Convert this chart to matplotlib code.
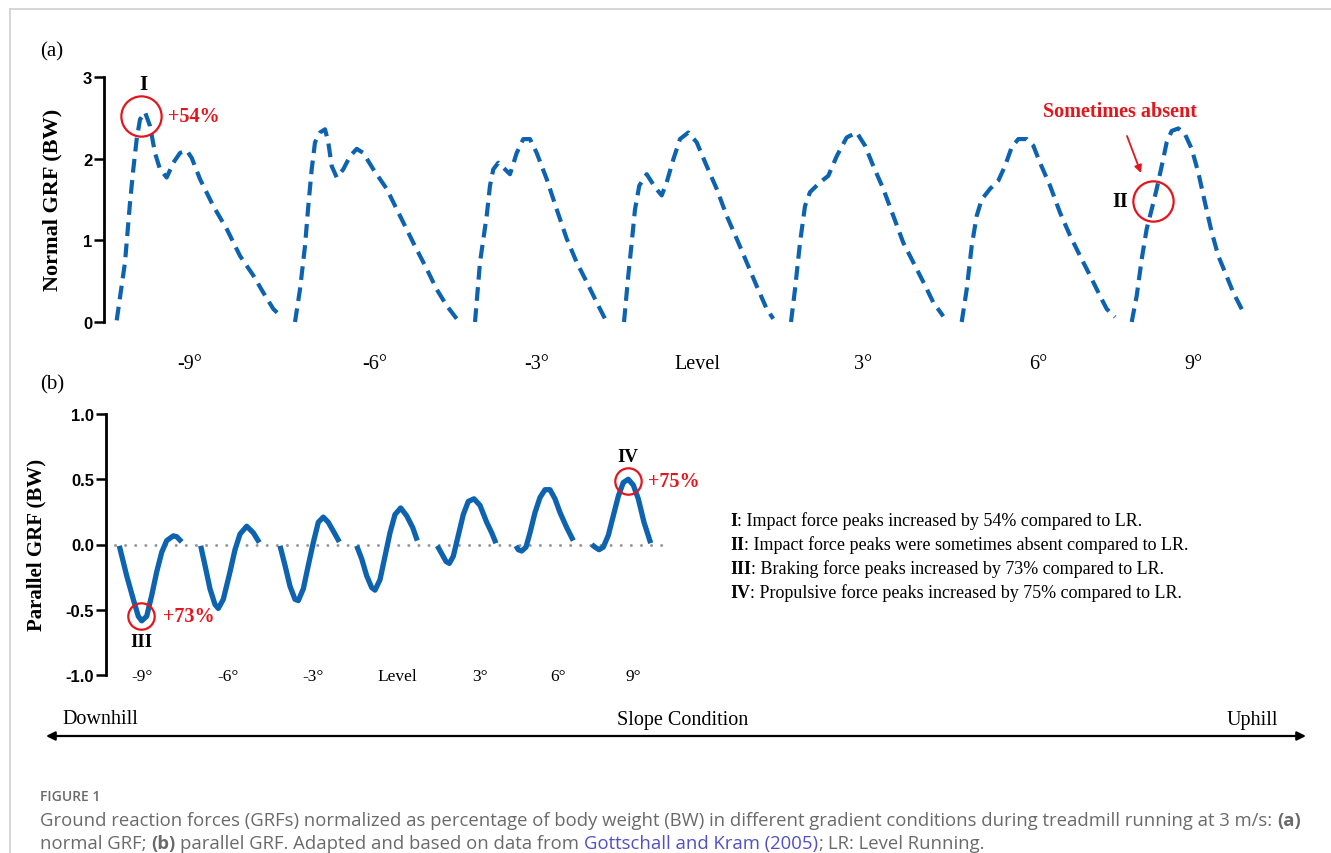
import matplotlib
matplotlib.use('Agg')
import matplotlib.pyplot as plt
from matplotlib.lines import Line2D

W, H = 1331, 854

conditions = ['-9°', '-6°', '-3°', 'Level', '3°', '6°', '9°']

# (a) normal GRF, one curve per slope, time in arbitrary units
normal_t = [
    [116.7, 125, 130, 133.3, 136.7, 140, 145, 150, 155, 160, 166.7, 173.3, 180, 186.7, 191.7, 200, 213.3, 226.7, 240, 253.3, 263.3, 273.3, 281.7],
    [295, 300, 305, 308.3, 311.7, 315, 320, 325, 328.3, 331.7, 336.7, 343.3, 350, 356.7, 363.3, 373.3, 386.7, 400, 413.3, 426.7, 436.7, 446.7, 456.7],
    [475, 480, 486.7, 490, 493.3, 498.3, 510, 516.7, 523.3, 530, 536.7, 546.7, 556.7, 566.7, 576.7, 586.7, 596.7, 605],
    [624, 628.3, 631.7, 635, 639.3, 646.7, 655, 661.7, 666.7, 673.3, 680, 688.3, 696.7, 706.7, 716.7, 726.7, 736.7, 746.7, 756.7, 766.7, 773.3],
    [791, 795, 800, 805, 810, 820, 828.3, 836.7, 846.7, 856.7, 865, 873.3, 883.3, 893.3, 903.3, 913.3, 923.3, 933.3, 943.3],
    [961.7, 966.7, 971.7, 976.7, 981.7, 990, 998.3, 1005, 1011.7, 1018.3, 1026.7, 1033.3, 1040, 1050, 1060, 1070, 1080, 1090, 1100, 1106.7, 1115],
    [1131.7, 1136.7, 1141.7, 1146.7, 1151.7, 1156.7, 1161.7, 1166.7, 1171.7, 1178.3, 1185, 1191.7, 1198.3, 1205, 1211.7, 1218.3, 1225, 1233.3, 1240, 1245],
]
normal_f = [
    [0.02, 0.73, 1.46, 1.87, 2.24, 2.48, 2.57, 2.40, 2.07, 1.87, 1.77, 1.95, 2.07, 2.10, 2.01, 1.75, 1.42, 1.14, 0.81, 0.57, 0.36, 0.16, 0.06],
    [0.0, 0.40, 0.93, 1.42, 1.87, 2.20, 2.32, 2.36, 2.20, 1.91, 1.77, 1.87, 2.03, 2.12, 2.07, 1.87, 1.63, 1.30, 0.97, 0.65, 0.40, 0.20, 0.04],
    [0.0, 0.73, 1.30, 1.67, 1.87, 1.95, 1.81, 2.07, 2.24, 2.24, 2.07, 1.75, 1.38, 1.02, 0.73, 0.49, 0.24, 0.04],
    [0.0, 0.57, 0.97, 1.38, 1.67, 1.81, 1.65, 1.55, 1.71, 1.99, 2.24, 2.32, 2.20, 1.91, 1.63, 1.30, 1.02, 0.73, 0.44, 0.16, 0.04],
    [0.0, 0.40, 0.97, 1.42, 1.59, 1.71, 1.79, 2.03, 2.26, 2.32, 2.16, 1.91, 1.63, 1.30, 0.97, 0.73, 0.49, 0.24, 0.07],
    [0.0, 0.40, 0.93, 1.30, 1.50, 1.63, 1.73, 1.91, 2.14, 2.24, 2.24, 2.16, 1.95, 1.67, 1.34, 1.06, 0.81, 0.57, 0.32, 0.16, 0.06],
    [0.0, 0.32, 0.77, 1.14, 1.38, 1.63, 1.91, 2.20, 2.34, 2.37, 2.30, 2.12, 1.83, 1.46, 1.10, 0.81, 0.61, 0.36, 0.20, 0.08],
]
normal_label_t = [190, 375, 537, 697, 863, 1038, 1193]
normal_circle_t = [141, 1153]
normal_circle_f = [2.52, 1.48]

# (b) parallel GRF
parallel_t = [
    [119.3, 126.7, 133.3, 138.3, 141.7, 146.7, 151.7, 156.7, 161.7, 166.7, 173.3, 176.7, 181.7],
    [200.7, 205, 210, 215, 218.3, 223.3, 230, 235, 240, 246.7, 253.3, 259.3],
    [280, 285, 290, 295, 298.3, 303.3, 308.3, 313.3, 318.3, 323.3, 328.3, 335, 339.3],
    [356.7, 361.7, 366.7, 371.7, 375, 380, 385, 390, 395, 400.7, 406.7, 412.7, 417.3],
    [437.3, 441.7, 446, 449.3, 453.3, 458.3, 463.3, 468.3, 474, 480, 486.7, 491.7, 496],
    [516, 518.3, 521.7, 526, 530, 535, 540, 545, 550, 555, 560, 566.7, 573.3],
    [591.7, 595, 599, 603.3, 608.3, 613.3, 618.3, 623.3, 628.3, 633.3, 638.3, 644, 650.7],
]
parallel_f = [
    [-0.01, -0.24, -0.42, -0.55, -0.585, -0.55, -0.39, -0.21, -0.06, 0.03, 0.066, 0.06, 0.02],
    [-0.01, -0.16, -0.34, -0.46, -0.49, -0.42, -0.21, -0.04, 0.08, 0.14, 0.09, 0.015],
    [-0.01, -0.16, -0.32, -0.42, -0.43, -0.34, -0.16, 0.015, 0.17, 0.21, 0.17, 0.08, 0.02],
    [-0.01, -0.11, -0.24, -0.33, -0.35, -0.27, -0.09, 0.09, 0.23, 0.28, 0.22, 0.13, 0.03],
    [-0.01, -0.07, -0.13, -0.145, -0.09, 0.07, 0.23, 0.33, 0.35, 0.30, 0.17, 0.09, 0.01],
    [-0.01, -0.04, -0.05, -0.02, 0.09, 0.245, 0.36, 0.42, 0.42, 0.35, 0.245, 0.13, 0.03],
    [0.0, -0.02, -0.04, -0.02, 0.07, 0.22, 0.37, 0.475, 0.50, 0.455, 0.35, 0.17, 0.01],
]
parallel_label_t = [142, 228, 313, 397, 480, 558, 633]
parallel_circle_t = [140.7, 628.3]
parallel_circle_f = [-0.55, 0.49]
zero_line_t = [115, 665]

notes = [
    ('I', ': Impact force peaks increased by 54% compared to LR.'),
    ('II', ': Impact force peaks were sometimes absent compared to LR.'),
    ('III', ': Braking force peaks increased by 73% compared to LR.'),
    ('IV', ': Propulsive force peaks increased by 75% compared to LR.'),
]

SERIF = 'Liberation Serif'
SANS = 'Liberation Sans'
CAP = 'Open Sans'
BLUE = '#0d63b0'
RED = '#e3161d'
GREY = '#6a6a6a'
CAP_SIZE = 13.3


def fx(x):
    return x / W


def fy(y):
    return 1 - y / H


fig = plt.figure(figsize=(W / 100, H / 100), dpi=100)

# page frame
fig.add_artist(Line2D([fx(9.5), fx(9.5)], [0, fy(9.5)], color='#cfcfcf', lw=1.2))
fig.add_artist(Line2D([fx(9.5), 1], [fy(9.5), fy(9.5)], color='#cfcfcf', lw=1.2))


def style_axis(ax, yticks, ylabels):
    for s in ['top', 'right', 'bottom']:
        ax.spines[s].set_visible(False)
    ax.spines['left'].set_linewidth(2.0)
    ax.set_yticks(yticks)
    ax.set_yticklabels(ylabels, fontfamily=SANS, fontweight='bold', fontsize=12)
    ax.tick_params(axis='y', direction='out', length=7, width=1.8, pad=1.5)


# ---- (a) normal GRF
ax1 = fig.add_axes([fx(104), fy(323), fx(1260) - fx(104), fy(78) - fy(323)])
for t, f in zip(normal_t, normal_f):
    ax1.plot(t, f, color=BLUE, lw=3, dashes=(3.3, 1.8), dash_capstyle='butt', clip_on=False)
ax1.set_xlim(104, 1260)
ax1.set_ylim(0, 3)
style_axis(ax1, [0, 1, 2, 3], ['0', '1', '2', '3'])
ax1.set_xticks(normal_label_t)
ax1.set_xticklabels(conditions, fontfamily=SERIF, fontsize=14.5)
ax1.tick_params(axis='x', length=0, pad=23)
ax1.set_ylabel('Normal GRF (BW)', fontfamily=SERIF, fontweight='bold', fontsize=16)
ax1.yaxis.set_label_coords(fx(62), fy(200), transform=fig.transFigure)
ax1.plot(normal_circle_t, normal_circle_f, 'o', ms=29, mfc='none', mec=RED, mew=1.6,
         ls='none', clip_on=False)

# ---- (b) parallel GRF
ax2 = fig.add_axes([fx(106), fy(676), fx(680) - fx(106), fy(415) - fy(676)])
ax2.plot(zero_line_t, [0, 0], color='#9a9a9a', lw=2.2, ls=(0, (0.01, 3.3)),
         dash_capstyle='round')
for t, f in zip(parallel_t, parallel_f):
    ax2.plot(t, f, color=BLUE, lw=3.8, solid_capstyle='butt', solid_joinstyle='round')
ax2.set_xlim(106, 680)
ax2.set_ylim(-1, 1)
style_axis(ax2, [-1, -0.5, 0, 0.5, 1], ['-1.0', '-0.5', '0.0', '0.5', '1.0'])
ax2.set_xticks(parallel_label_t)
ax2.set_xticklabels(conditions, fontfamily=SERIF, fontsize=12.5)
ax2.tick_params(axis='x', length=0, pad=-5)
ax2.set_ylabel('Parallel GRF (BW)', fontfamily=SERIF, fontweight='bold', fontsize=15)
ax2.yaxis.set_label_coords(fx(46), fy(545), transform=fig.transFigure)
ax2.plot(parallel_circle_t, parallel_circle_f, 'o', ms=19, mfc='none', mec=RED, mew=1.6,
         ls='none', clip_on=False)

# ---- panel labels and annotations
fig.text(fx(40), fy(52), '(a)', fontfamily=SERIF, fontsize=15, va='center')
fig.text(fx(40), fy(385), '(b)', fontfamily=SERIF, fontsize=15, va='center')

bold = dict(fontfamily=SERIF, fontweight='bold', va='center')
fig.text(fx(143), fy(85), 'I', ha='center', fontsize=15, **bold)
fig.text(fx(168), fy(117), '+54%', ha='left', color=RED, fontsize=14.5, **bold)
fig.text(fx(1120), fy(112), 'Sometimes absent', ha='center', color=RED, fontsize=14.5, **bold)
fig.text(fx(1120), fy(202), 'II', ha='center', fontsize=14.5, **bold)
fig.text(fx(141), fy(643), 'III', ha='center', fontsize=13.5, **bold)
fig.text(fx(163), fy(617), '+73%', ha='left', color=RED, fontsize=14.5, **bold)
fig.text(fx(628), fy(458), 'IV', ha='center', fontsize=13.5, **bold)
fig.text(fx(648), fy(482), '+75%', ha='left', color=RED, fontsize=14.5, **bold)

ax1.annotate('', xy=(fx(1141), fy(174)), xytext=(fx(1127), fy(137)),
             xycoords='figure fraction', textcoords='figure fraction',
             arrowprops=dict(arrowstyle='-|>', color=RED, lw=1.3, mutation_scale=11,
                             shrinkA=0, shrinkB=0))


def chain(first, parts, **common):
    prev = first
    for txt, gap, kw in parts:
        opts = dict(common)
        opts.update(kw)
        prev = ax1.annotate(txt, xy=(1, 0), xycoords=prev, xytext=(gap, 0),
                            textcoords='offset points', ha='left', va='bottom', **opts)
    return prev


# explanation block
for i, (num, rest) in enumerate(notes):
    y = 522 + i * 23.8
    t0 = fig.text(fx(730), fy(y), num, fontfamily=SERIF, fontweight='bold', fontsize=13,
                  va='center')
    chain(t0, [(rest, 0, {})], fontfamily=SERIF, fontsize=13)

# slope axis
fig.text(fx(62), fy(720), 'Downhill', fontfamily=SERIF, fontsize=14.5, va='center', ha='left')
fig.text(fx(683), fy(720), 'Slope Condition', fontfamily=SERIF, fontsize=14.5, va='center',
         ha='center')
fig.text(fx(1278), fy(720), 'Uphill', fontfamily=SERIF, fontsize=14.5, va='center', ha='right')
ax1.annotate('', xy=(fx(1306), fy(737)), xytext=(fx(46), fy(737)),
             xycoords='figure fraction', textcoords='figure fraction',
             arrowprops=dict(arrowstyle='<|-|>', color='black', lw=1.6, mutation_scale=13,
                             shrinkA=0, shrinkB=0))

# caption
fig.text(fx(40), fy(797), 'FIGURE 1', fontfamily=CAP, fontsize=10, color=GREY, va='center',
         fontweight='semibold')
c1 = fig.text(fx(40), fy(821),
              'Ground reaction forces (GRFs) normalized as percentage of body weight (BW) in '
              'different gradient conditions during treadmill running at 3 m/s:',
              fontfamily=CAP, fontsize=CAP_SIZE, color=GREY, va='center')
chain(c1, [('(a)', 3.5, {'fontweight': 'bold'})], fontfamily=CAP, fontsize=CAP_SIZE, color=GREY)
c2 = fig.text(fx(40), fy(844), 'normal GRF;', fontfamily=CAP, fontsize=CAP_SIZE, color=GREY,
              va='center')
chain(c2, [('(b)', 3.5, {'fontweight': 'bold'}),
           ('parallel GRF. Adapted and based on data from', 3.5, {}),
           ('Gottschall and Kram (2005)', 3.5, {'color': '#5050c8'}),
           (';', 0, {}),
           ('LR: Level Running.', 3.5, {})],
      fontfamily=CAP, fontsize=CAP_SIZE, color=GREY)

fig.savefig('out.png', dpi=100)
